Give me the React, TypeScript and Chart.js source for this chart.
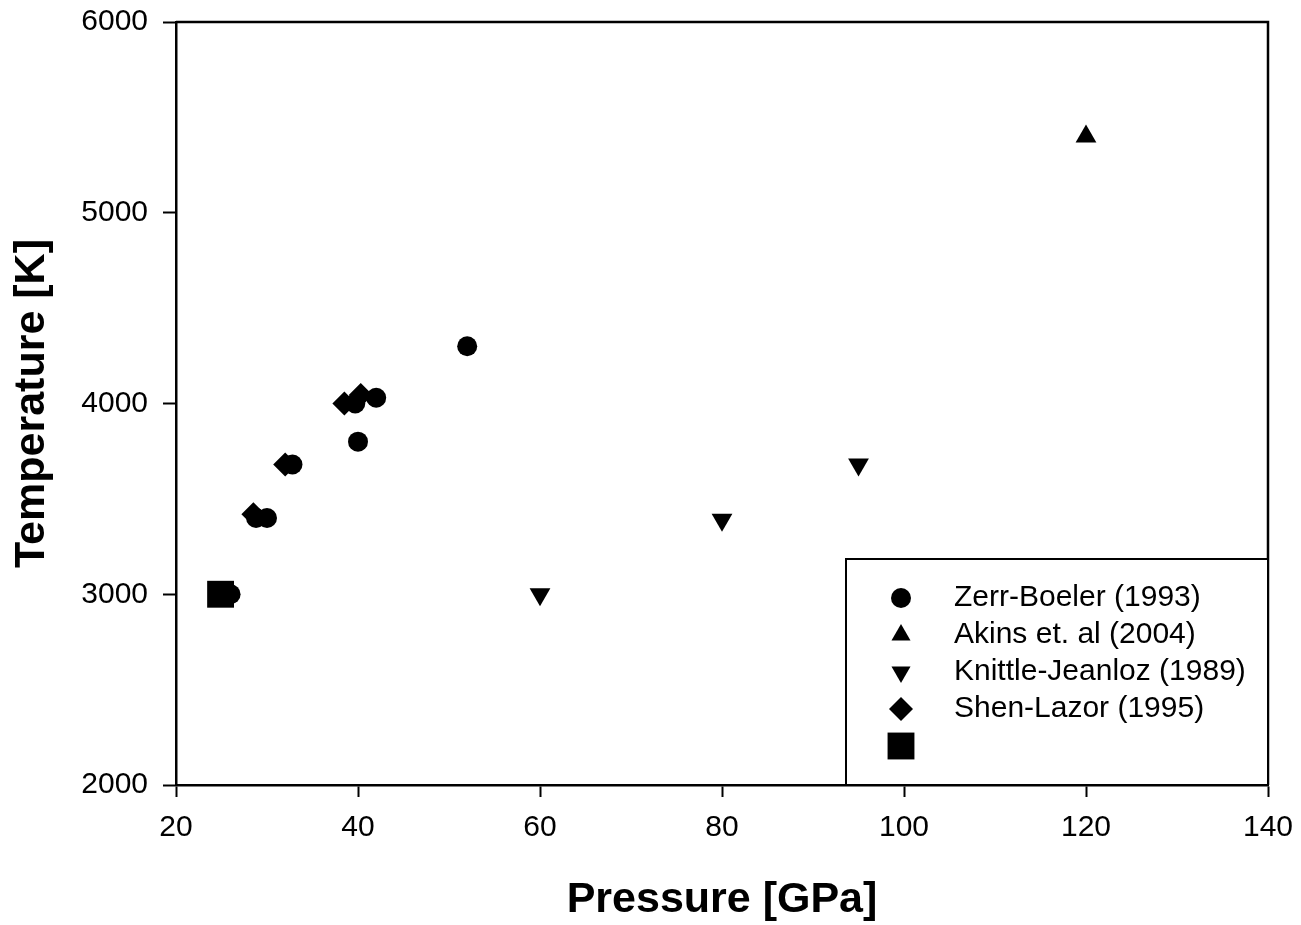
import React, { useEffect, useRef } from 'react';
import { Chart, registerables } from 'chart.js';
import { drawPoint } from 'chart.js/helpers';

Chart.register(...registerables);

const FONT = '"Liberation Sans", Arial, Helvetica, sans-serif';

// Axis ticks
const xTicks = [20, 40, 60, 80, 100, 120, 140];
const yTicks = [2000, 3000, 4000, 5000, 6000];

// Series
const zerrPressure = [26, 28.8, 30, 32.8, 39.7, 40, 42, 52];
const zerrTemp = [3000, 3400, 3400, 3680, 4000, 3800, 4030, 4300];

const akinsPressure = [120];
const akinsTemp = [5400];

const knittlePressure = [60, 80, 95];
const knittleTemp = [3000, 3390, 3680];

const shenPressure = [28.5, 32, 38.5, 40.3];
const shenTemp = [3420, 3680, 4000, 4045];

const squarePressure = [24.9];
const squareTemp = [3000];

const labels = ['Zerr-Boeler (1993)', 'Akins et. al (2004)', 'Knittle-Jeanloz (1989)', 'Shen-Lazor (1995)', ''];

const toPoints = (xs: number[], ys: number[]) => xs.map((x, i) => ({ x, y: ys[i] }));

const legendRadius = [10, 11, 11, 12, 19];

const framePlugin = {
  id: 'frame',
  afterDraw(chart: any) {
    const { ctx, chartArea } = chart;
    ctx.save();
    ctx.strokeStyle = '#000';
    ctx.lineWidth = 2.5;
    ctx.beginPath();
    ctx.moveTo(chartArea.left, chartArea.top);
    ctx.lineTo(chartArea.right, chartArea.top);
    ctx.lineTo(chartArea.right, chartArea.bottom);
    ctx.stroke();
    ctx.restore();
  },
};

const legendPlugin = {
  id: 'boxLegend',
  afterDraw(chart: any) {
    const { ctx, chartArea } = chart;
    const w = 422;
    const h = 226;
    const x0 = chartArea.right - w;
    const y0 = chartArea.bottom - h;
    ctx.save();
    ctx.fillStyle = '#fff';
    ctx.fillRect(x0, y0, w, h);
    ctx.strokeStyle = '#000';
    ctx.lineWidth = 2;
    ctx.strokeRect(x0, y0, w, h);
    chart.data.datasets.forEach((ds: any, i: number) => {
      const y = y0 + 39 + i * 37;
      ctx.fillStyle = '#000';
      ctx.strokeStyle = '#000';
      drawPoint(ctx, {
        pointStyle: ds.pointStyle,
        radius: legendRadius[i],
        rotation: ds.pointRotation || 0,
        borderWidth: 0,
      } as any, x0 + 55, y);
      ctx.font = `30px ${FONT}`;
      ctx.textBaseline = 'middle';
      ctx.textAlign = 'left';
      ctx.fillText(ds.label, x0 + 108, y);
    });
    ctx.restore();
  },
};

export default function App() {
  const canvasRef = useRef<HTMLCanvasElement | null>(null);

  useEffect(() => {
    if (!canvasRef.current) return;
    const common = {
      backgroundColor: '#000',
      borderColor: '#000',
      pointBackgroundColor: '#000',
      pointBorderColor: '#000',
      pointBorderWidth: 0,
      showLine: false,
    };
    const chart = new Chart(canvasRef.current, {
      type: 'scatter',
      data: {
        datasets: [
          { ...common, label: labels[0], data: toPoints(zerrPressure, zerrTemp), pointStyle: 'circle', pointRadius: 10 },
          { ...common, label: labels[1], data: toPoints(akinsPressure, akinsTemp), pointStyle: 'triangle', pointRadius: 12 },
          { ...common, label: labels[2], data: toPoints(knittlePressure, knittleTemp), pointStyle: 'triangle', pointRotation: 180, pointRadius: 12 },
          { ...common, label: labels[3], data: toPoints(shenPressure, shenTemp), pointStyle: 'rectRot', pointRadius: 12 },
          { ...common, label: labels[4], data: toPoints(squarePressure, squareTemp), pointStyle: 'rect', pointRadius: 19 },
        ] as any,
      },
      options: {
        animation: false,
        responsive: false,
        devicePixelRatio: 1,
        layout: { padding: { top: 22, right: 33, left: 0, bottom: 0 } },
        plugins: {
          legend: { display: false },
          tooltip: { enabled: false },
        },
        scales: {
          x: {
            type: 'linear',
            min: 20,
            max: 140,
            afterBuildTicks: (scale: any) => {
              scale.ticks = xTicks.map((v) => ({ value: v }));
            },
            afterFit: (scale: any) => {
              scale.height = 140;
              scale.paddingLeft = 0;
              scale.paddingRight = 0;
            },
            ticks: {
              color: '#000',
              font: { family: FONT, size: 30 },
              padding: 13,
              maxRotation: 0,
              callback: (v: any) => String(v),
            },
            grid: { display: true, drawOnChartArea: false, drawTicks: true, tickLength: 12, tickWidth: 2, tickColor: '#000' },
            border: { display: true, color: '#000', width: 2.5 },
            title: {
              display: true,
              text: 'Pressure [GPa]',
              color: '#000',
              font: { family: FONT, size: 43, weight: 'bold', lineHeight: 1 },
              padding: { top: 0, bottom: 3.5 },
            },
          },
          y: {
            type: 'linear',
            min: 2000,
            max: 6000,
            afterBuildTicks: (scale: any) => {
              scale.ticks = yTicks.map((v) => ({ value: v }));
            },
            afterFit: (scale: any) => {
              scale.width = 176;
              scale.paddingTop = 0;
              scale.paddingBottom = 0;
            },
            ticks: {
              color: '#000',
              font: { family: FONT, size: 30 },
              padding: 15,
              callback: (v: any) => String(v),
            },
            grid: { display: true, drawOnChartArea: false, drawTicks: true, tickLength: 13, tickWidth: 2, tickColor: '#000' },
            border: { display: true, color: '#000', width: 2.5 },
            title: {
              display: true,
              text: 'Temperature [K]',
              color: '#000',
              font: { family: FONT, size: 43, weight: 'bold', lineHeight: 1 },
              padding: { top: 10.5, bottom: 0 },
            },
          },
        },
      } as any,
      plugins: [framePlugin, legendPlugin],
    });
    return () => chart.destroy();
  }, []);

  return (
    <div style={{ position: 'absolute', left: 0, top: 0, width: 1301, height: 925, background: '#fff' }}>
      <canvas ref={canvasRef} width={1301} height={925} style={{ display: 'block' }} />
    </div>
  );
}
